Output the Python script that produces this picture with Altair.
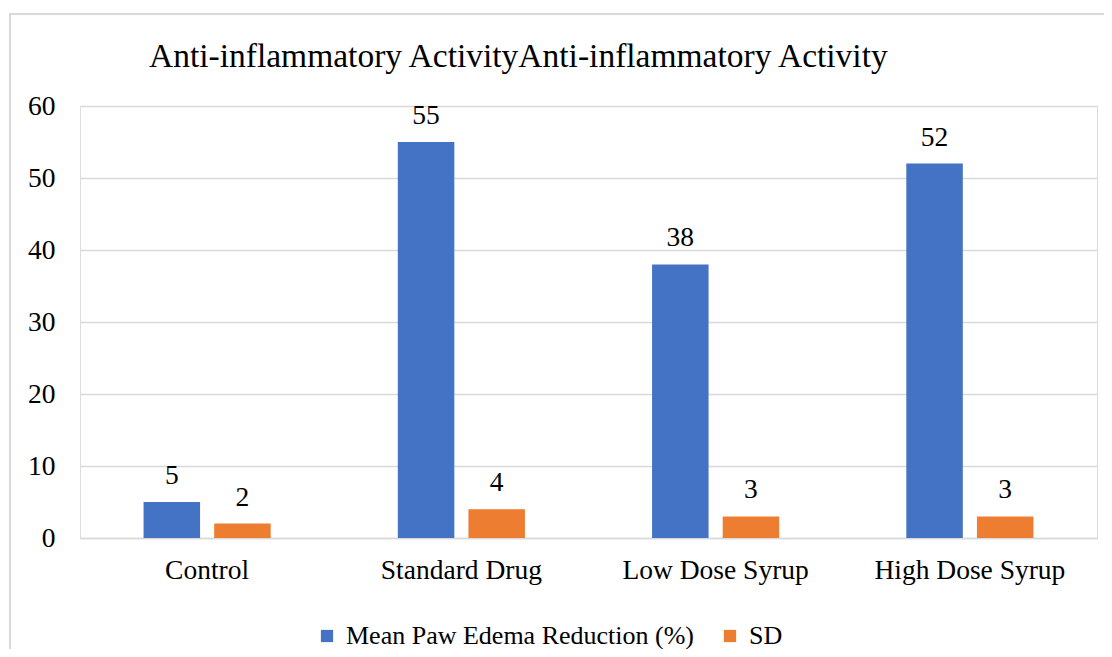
import altair as alt
import pandas as pd

categories = ["Control", "Standard Drug", "Low Dose Syrup", "High Dose Syrup"]
mean_reduction = [5, 55, 38, 52]
sd_values = [2, 4, 3, 3]
series_names = ["Mean Paw Edema Reduction (%)", "SD"]
series_colors = ["#4472C4", "#ED7D31"]
y_ticks = [0, 10, 20, 30, 40, 50, 60]

rows = []
for c, m, s in zip(categories, mean_reduction, sd_values):
    rows.append({"Category": c, "Series": series_names[0], "Value": m})
    rows.append({"Category": c, "Series": series_names[1], "Value": s})
df = pd.DataFrame(rows)

FONT = "Times New Roman, Liberation Serif, serif"

x_enc = alt.X("Category:N", sort=categories,
              scale=alt.Scale(paddingInner=0.5, paddingOuter=0.25),
              axis=alt.Axis(title=None, labelAngle=0, ticks=False, domainColor="#D9D9D9",
                            domainWidth=1.5, labelFontSize=27.5, labelColor="#000000",
                            labelPadding=18, labelFont=FONT, labelLimit=400))
xoff = alt.XOffset("Series:N", sort=series_names,
                   scale=alt.Scale(paddingInner=0.2, paddingOuter=0))
y_enc = alt.Y("Value:Q", scale=alt.Scale(domain=[0, 60], nice=False),
              axis=alt.Axis(title=None, values=y_ticks, domain=False, ticks=False,
                            gridColor="#D9D9D9", gridWidth=1.5, labelFontSize=27.5,
                            labelColor="#000000", labelPadding=25, labelFont=FONT))
color_enc = alt.Color("Series:N", sort=series_names,
                      scale=alt.Scale(domain=series_names, range=series_colors),
                      legend=alt.Legend(title=None, orient="none", legendX=234, legendY=517,
                                        direction="horizontal", symbolType="square",
                                        symbolSize=150, symbolStrokeWidth=0,
                                        labelFontSize=26, labelFont=FONT, labelColor="#000000",
                                        labelOffset=6, columnPadding=22, labelLimit=600))

base = alt.Chart(df)
bars = base.mark_bar().encode(x=x_enc, xOffset=xoff, y=y_enc, color=color_enc)
labels = base.mark_text(baseline="bottom", dy=-12, fontSize=27.5, font=FONT, color="#000000").encode(
    x=alt.X("Category:N", sort=categories), xOffset=alt.XOffset("Series:N", sort=series_names),
    y="Value:Q", text="Value:Q")

frame = alt.Chart(pd.DataFrame({"f": [0]})).mark_rect(
    fill="transparent", stroke="#D9D9D9", strokeWidth=2).encode(
    x=alt.value(-70), y=alt.value(-92), x2=alt.value(1120), y2=alt.value(700))

chart = alt.layer(frame, bars, labels).properties(
    width=1017, height=432,
    autosize=alt.AutoSizeParams(type="none"),
    padding={"left": 72, "top": 98, "right": 7, "bottom": 111},
    title=alt.TitleParams("Anti-inflammatory ActivityAnti-inflammatory Activity",
                          anchor="start", dx=140, offset=-61, fontSize=33.5, font=FONT,
                          fontWeight="normal", color="#000000"),
).configure_view(stroke=None).configure(background="white")

chart.save("out.html", embed_options={"renderer": "svg", "actions": False})
